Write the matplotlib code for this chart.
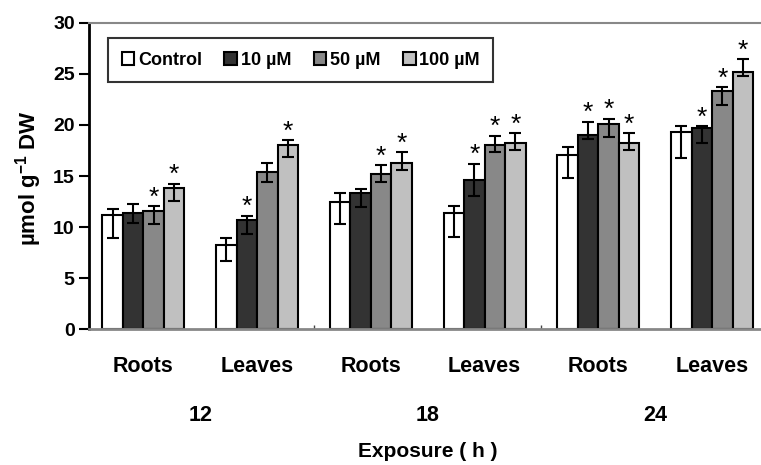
import numpy as np
from matplotlib import pyplot as plt

plt.rcParams['font.family'] = ['Liberation Sans', 'DejaVu Sans']
plt.rcParams['font.weight'] = 'bold'
plt.rcParams['mathtext.fontset'] = 'custom'
plt.rcParams['mathtext.rm'] = 'Liberation Sans'
plt.rcParams['mathtext.default'] = 'regular'

groups = ['Roots', 'Leaves', 'Roots', 'Leaves', 'Roots', 'Leaves']
hours = ['12', '18', '24']
series = ['Control', '10 µM', '50 µM', '100 µM']
colors = ['white', '#333333', '#888888', '#c0c0c0']

# bar heights
control = [11.2, 8.25, 12.5, 11.4, 17.1, 19.3]
uM10 = [11.4, 10.7, 13.3, 14.6, 19.0, 19.7]
uM50 = [11.6, 15.4, 15.2, 18.0, 20.1, 23.3]
uM100 = [13.8, 18.0, 16.3, 18.2, 18.2, 25.2]

# error bars (lower, upper)
control_lo = [2.3, 1.55, 2.2, 2.4, 2.3, 2.5]
control_hi = [0.6, 0.65, 0.8, 0.66, 0.7, 0.6]
uM10_lo = [1.0, 1.4, 1.3, 1.6, 0.4, 1.5]
uM10_hi = [0.86, 0.4, 0.46, 1.6, 1.3, 0.15]
uM50_lo = [1.3, 1.0, 0.8, 0.7, 1.3, 1.4]
uM50_hi = [0.46, 0.9, 0.87, 0.93, 0.5, 0.4]
uM100_lo = [1.26, 1.1, 0.7, 0.7, 0.7, 0.4]
uM100_hi = [0.44, 0.5, 1.0, 1.0, 1.0, 1.2]

# significance stars
control_sig = [0, 0, 0, 0, 0, 0]
uM10_sig = [0, 1, 0, 1, 1, 1]
uM50_sig = [1, 0, 1, 1, 1, 1]
uM100_sig = [1, 1, 1, 1, 1, 1]

vals = [control, uM10, uM50, uM100]
lows = [control_lo, uM10_lo, uM50_lo, uM100_lo]
highs = [control_hi, uM10_hi, uM50_hi, uM100_hi]
sigs = [control_sig, uM10_sig, uM50_sig, uM100_sig]

fig = plt.figure(figsize=(7.61, 4.65), dpi=100)
ax = fig.add_axes([0.1173, 0.2918, 0.8827, 0.6594])

x = np.arange(len(groups))
w = 0.18
for j in range(len(series)):
    xs = x + (j - 1.5) * w
    ax.bar(xs, vals[j], w, color=colors[j], edgecolor='black', linewidth=1.5,
           label=series[j], zorder=2)
    ax.errorbar(xs, vals[j], yerr=[lows[j], highs[j]], fmt='none', ecolor='black',
                elinewidth=1.5, capsize=4.5, capthick=1.5, zorder=3)
    for i in range(len(groups)):
        if sigs[j][i]:
            ax.annotate('*', (xs[i], vals[j][i] + highs[j][i]), xytext=(0, -2.5),
                        textcoords='offset points', ha='center', va='bottom',
                        fontsize=19, fontweight='normal')

ax.set_xlim(-0.476, 5.43)
ax.set_ylim(0, 30)
ax.set_yticks(range(0, 31, 5))
ax.tick_params(axis='y', labelsize=14, length=7, width=1.5, direction='out')
ax.set_xticks([1.5, 3.5])
ax.set_xticklabels([])
ax.tick_params(axis='x', length=3, width=1, direction='in', colors='#444444')

ax.spines['left'].set_linewidth(2)
ax.spines['left'].set_color('black')
ax.spines['bottom'].set_color('#888888')
ax.spines['bottom'].set_linewidth(2)
ax.spines['top'].set_color('#888888')
ax.spines['top'].set_linewidth(1.5)
ax.spines['right'].set_visible(False)

for i in range(len(groups)):
    ax.text(x[i], -0.12, groups[i], transform=ax.get_xaxis_transform(),
            ha='center', va='center', fontsize=15.5, fontweight='bold')
for k in range(len(hours)):
    ax.text(2 * k + 0.5, -0.28, hours[k], transform=ax.get_xaxis_transform(),
            ha='center', va='center', fontsize=15.5, fontweight='bold')
ax.text(2.5, -0.40, 'Exposure ( h )', transform=ax.get_xaxis_transform(),
        ha='center', va='center', fontsize=15, fontweight='bold')

fig.text(0.037, 0.618, 'µmol g$^{-1}$ DW', rotation=90, ha='center', va='center',
         fontsize=16, fontweight='bold')

leg = ax.legend(loc='upper left', bbox_to_anchor=(0.028, 0.95), ncol=4, fontsize=13,
                frameon=True, fancybox=False, handlelength=0.7, handleheight=0.7,
                handletextpad=0.2, columnspacing=1.25, borderpad=0.75, borderaxespad=0)
leg.get_frame().set_edgecolor('black')
leg.get_frame().set_linewidth(1.5)

plt.savefig('out.png', dpi=100)
